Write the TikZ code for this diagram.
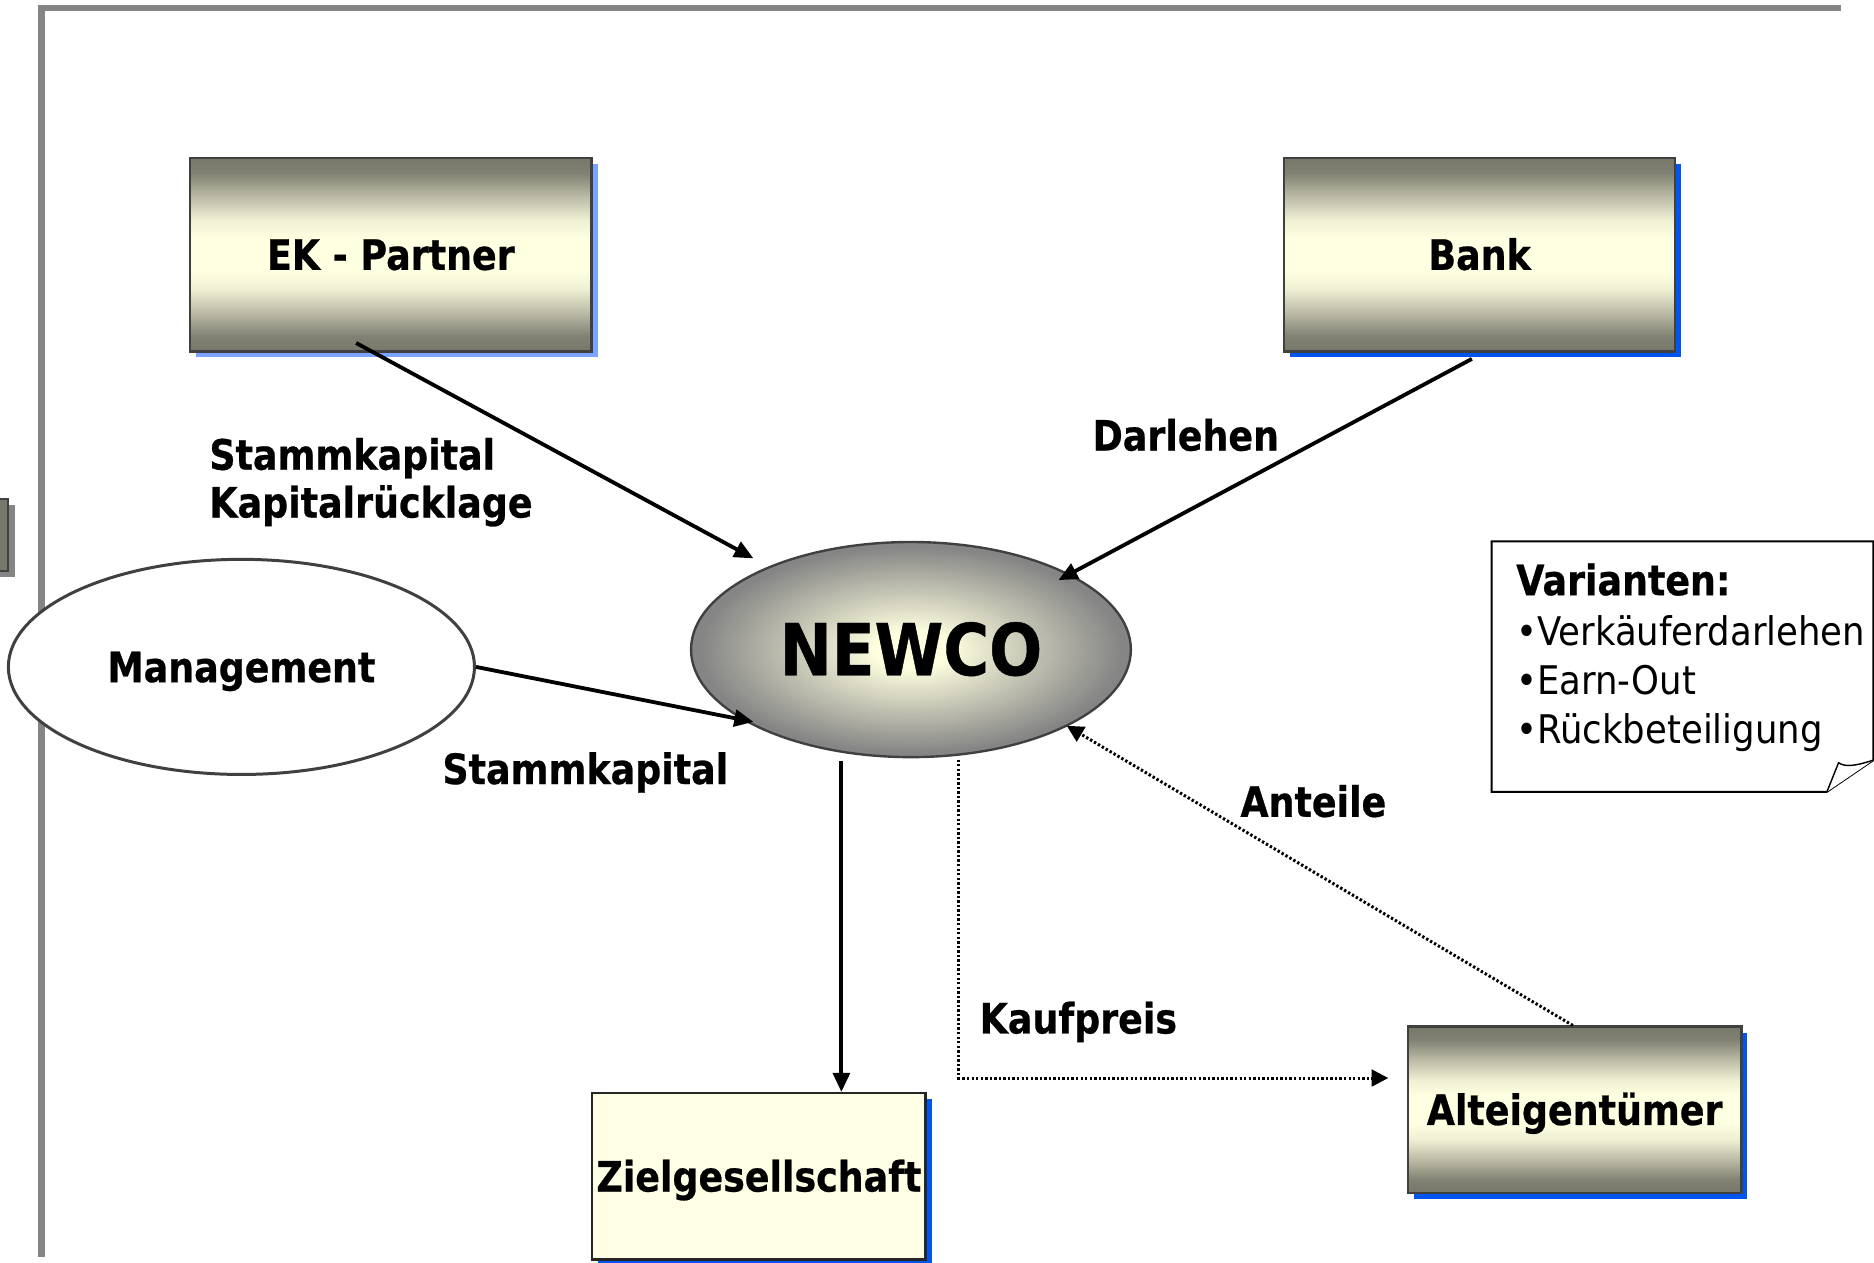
\documentclass[tikz,border=0pt]{standalone}
\usepackage{fontspec}
\setmainfont{DejaVu Sans}
\newfontfamily\diagfam{DejaVu Sans}[FakeStretch=0.87, BoldFeatures={FakeBold=0.6}]
\newfontfamily\diagfamplain{DejaVu Sans}[FakeStretch=0.9]
\newcommand\diagbold{\diagfam\bfseries\fontsize{35pt}{41pt}\selectfont}
\newcommand\diagbig{\diagfam\bfseries\fontsize{60pt}{64pt}\selectfont}
\newcommand\diagplain{\diagfamplain\fontsize{33pt}{41pt}\selectfont}
\usetikzlibrary{arrows.meta, shapes.geometric, shadows, calc}

\definecolor{boxdark}{HTML}{77776A}
\definecolor{boxlight}{HTML}{FFFFE2}
\colorlet{bxA}{boxdark!92!boxlight}
\colorlet{bxB}{boxdark!50!boxlight}
\colorlet{bxC}{boxdark!12!boxlight}
\definecolor{framegray}{HTML}{858585}
\definecolor{edgegray}{HTML}{404040}
\definecolor{shadowblue}{HTML}{0055EE}
\definecolor{paleblue}{HTML}{7BA3FF}
\definecolor{zielfill}{HTML}{FFFFE6}
\definecolor{glowin}{HTML}{FFFFE0}
\definecolor{glowout}{HTML}{858585}

% olive-to-cream band used for the party boxes
\pgfdeclareverticalshading{boxgrad}{100bp}{color(0bp)=(boxdark); color(25bp)=(boxdark);
  color(29bp)=(bxA); color(35bp)=(bxB); color(41bp)=(bxC); color(46bp)=(boxlight);
  color(54bp)=(boxlight); color(59bp)=(bxC); color(65bp)=(bxB); color(71bp)=(bxA);
  color(75bp)=(boxdark); color(100bp)=(boxdark)}
% glowing centre of the acquisition vehicle
\pgfdeclareradialshading{newcoglow}{\pgfpoint{0bp}{0bp}}{color(0bp)=(glowin);
  color(4bp)=(glowin); color(24bp)=(glowout); color(50bp)=(glowout)}

\tikzset{
  gbox/.style={rectangle, draw=edgegray, line width=2pt, shade, shading=boxgrad,
    font=\diagbold, text height=25.5pt, text depth=0pt, inner sep=0pt},
  blueshadow/.style={drop shadow={shadow xshift=5pt, shadow yshift=-5pt, fill=shadowblue, opacity=1}},
  paleshadow/.style={drop shadow={shadow xshift=5pt, shadow yshift=-5pt, fill=paleblue, opacity=1}},
  zbox/.style={rectangle, draw=black!85, line width=2pt, fill=zielfill,
    font=\diagbold, text height=25.5pt, text depth=0pt, inner sep=0pt},
  newcostyle/.style={ellipse, draw=edgegray, line width=2pt, shade, shading=newcoglow,
    minimum width=368pt, minimum height=180pt, inner sep=0pt,
    font=\diagbig, text height=43pt, text depth=0pt},
  mgmtstyle/.style={ellipse, draw=edgegray, line width=2.5pt, fill=white,
    minimum width=390pt, minimum height=180pt, inner sep=0pt,
    font=\diagbold, text height=25.5pt, text depth=0pt},
  flow/.style={line width=3.2pt, -{Triangle[length=16pt,width=14pt]}},
  dotflow/.style={line width=2.5pt, dash pattern=on 2pt off 1.8pt, -{Triangle[length=14pt,width=14pt]}},
  lbl/.style={anchor=base west, inner sep=0pt, font=\diagbold},
  notetext/.style={anchor=base west, inner sep=0pt},
}

\begin{document}
\begin{tikzpicture}[x=1pt, y=-1pt]
\useasboundingbox (0,0) rectangle (1568,1056);
\fill[white] (0,0) rectangle (1568,1056);

% page frame
\draw[framegray, line width=5pt] (32,7) -- (1540,7);
\draw[framegray, line width=6pt] (35,4.5) -- (35,1052);

% neighbouring box cut off at the left edge
\fill[framegray] (0,422.6) rectangle (12.5,482.6);
\draw[edgegray, line width=1.5pt, fill=boxdark!85!gray] (-30,417.6) rectangle (7,478);

% parties
\node[gbox, paleshadow, minimum width=336pt, minimum height=162pt] (ek) at (327,213) {EK - Partner};
\node[gbox, blueshadow, minimum width=327pt, minimum height=162pt] (bank) at (1238,213) {Bank};
\node[newcostyle] (newco) at (762.2,543.5) {NEWCO};
\node[mgmtstyle] (mgmt) at (202,558) {Management};
\node[zbox, blueshadow, minimum width=279pt, minimum height=139pt] (ziel) at (635,984.2) {Zielgesellschaft};
\node[gbox, blueshadow, minimum width=279pt, minimum height=139pt] (alt) at (1317.5,928.5) {Alteigentümer};

% financing flows
\draw[flow] ($(ek.south)+(-29,-8)$) -- ($(newco.center)+(-131.8,-76.3)$);
\draw[flow] ($(bank.south)+(-6.5,5.3)$) -- ($(newco.center)+(123.4,-58.1)$);
\draw[flow] (mgmt.east) -- ($(newco.center)+(-131.8,60.5)$);
\coordinate (down) at ($(newco.south)+(-58.2,2.3)$);
\draw[flow] (down) -- (down |- ziel.north);

% purchase price and shares
\coordinate (kp) at ($(newco.south)+(39.8,1)$);
\coordinate (kpend) at ($(alt.west)+(-15.4,-26.5)$);
\draw[dotflow] (kp) |- (kpend);
\draw[dotflow] ($(alt.north)+(-1.5,0)$) -- ($(newco.center)+(130.4,63.8)$);

% flow labels
\node[lbl] (l1) at (175,393) {Stammkapital};
\node[lbl] (l2) at (175,433) {Kapitalrücklage};
\node[lbl] (l3) at (914,377) {Darlehen};
\node[lbl] (l4) at (370,656) {Stammkapital};
\node[lbl] (l5) at (1037.7,683.4) {Anteile};
\node[lbl] (l6) at (819.5,864.7) {Kaufpreis};

% note with folded corner
\draw[line width=1.6pt, fill=white] (1248,453) -- (1567.5,453) -- (1567.5,636)
  -- (1528.6,662.5) -- (1248,662.5) -- cycle;
\draw[line width=1.2pt, fill=white, line join=round] (1528.6,662.5) -- (1538.3,638.2)
  .. controls (1544,642) and (1552,641) .. (1567.5,636);
\node[notetext, font=\diagbold] (v0) at (1268.5,498) {Varianten:};
\node[notetext, font=\diagplain] (v1) at (1268.5,539.7) {•Verkäuferdarlehen};
\node[notetext, font=\diagplain] (v2) at (1268.5,580.7) {•Earn-Out};
\node[notetext, font=\diagplain] (v3) at (1268.5,621.7) {•Rückbeteiligung};
\end{tikzpicture}
\end{document}
